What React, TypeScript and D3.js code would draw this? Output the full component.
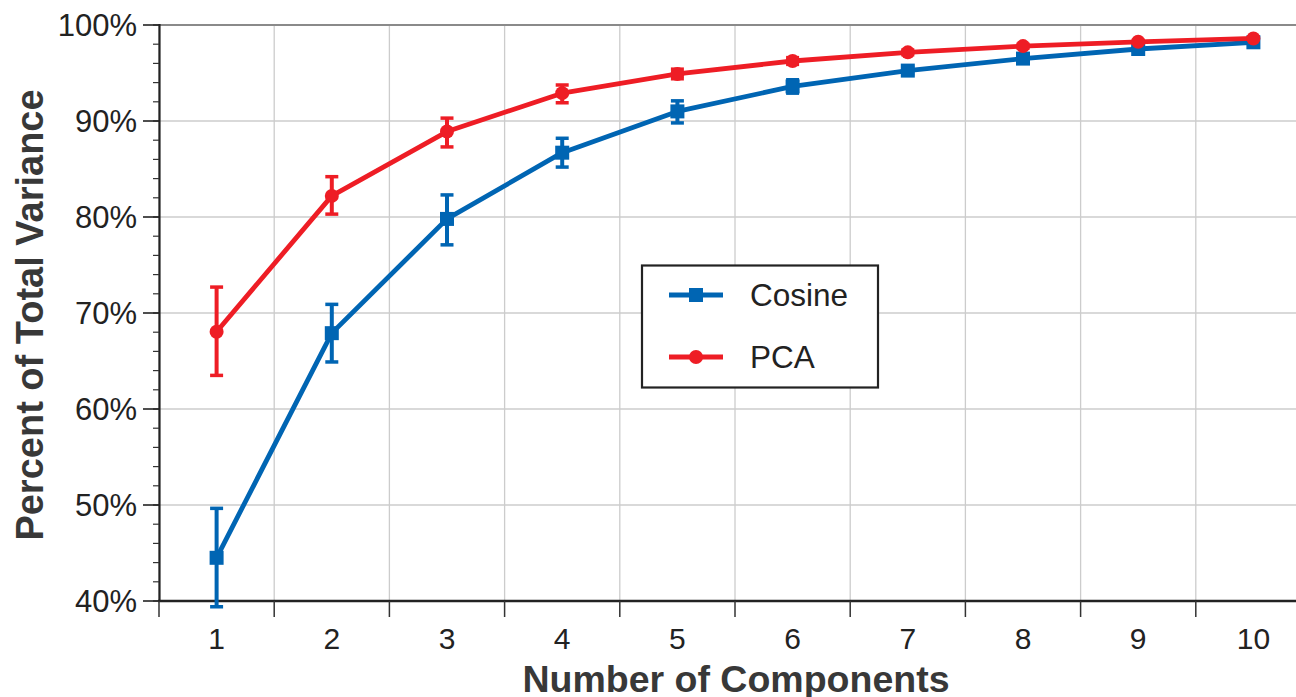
import React from "react";
import * as d3 from "d3";

const components = [1, 2, 3, 4, 5, 6, 7, 8, 9, 10];
const cosineMean = [44.5, 67.9, 79.8, 86.7, 91.0, 93.6, 95.25, 96.5, 97.5, 98.2];
const cosineLow = [39.4, 64.9, 77.1, 85.2, 89.8, 92.9, 94.9, 96.2, 97.3, 98.0];
const cosineHigh = [49.65, 70.9, 82.3, 88.2, 92.1, 94.3, 95.6, 96.8, 97.7, 98.4];
const pcaMean = [68.05, 82.2, 88.9, 92.9, 94.9, 96.25, 97.15, 97.8, 98.25, 98.6];
const pcaLow = [63.5, 80.3, 87.3, 91.9, 94.4, 95.9, 96.9, 97.6, 98.1, 98.5];
const pcaHigh = [72.7, 84.2, 90.3, 93.75, 95.4, 96.6, 97.4, 98.0, 98.4, 98.7];
const yTicks = [40, 50, 60, 70, 80, 90, 100];
const legendLabels = ["Cosine", "PCA"];

const W = 1296;
const H = 697;
const BLUE = "#0065b3";
const RED = "#ee1d25";
const FONT = "'Liberation Sans', Arial, Helvetica, sans-serif";

export default function App() {
  const x = d3.scaleLinear().domain([0.5, 10.5]).range([159, 1311]);
  const y = d3.scaleLinear().domain([40, 100]).range([601, 25]);
  const line = d3
    .line<number>()
    .x((_, i) => x(components[i]))
    .y((d) => y(d));
  const minorTicks = d3.range(40, 100.01, 2);
  const bounds = d3.range(0.5, 10.51, 1);

  const series = [
    { name: legendLabels[0], mean: cosineMean, low: cosineLow, high: cosineHigh, color: BLUE, shape: "square" },
    { name: legendLabels[1], mean: pcaMean, low: pcaLow, high: pcaHigh, color: RED, shape: "circle" },
  ];

  const marker = (shape: string, cx: number, cy: number, color: string, key: any) =>
    shape === "square" ? (
      <rect key={key} x={cx - 7} y={cy - 7} width={14} height={14} fill={color} />
    ) : (
      <circle key={key} cx={cx} cy={cy} r={7} fill={color} />
    );

  return (
    <svg
      width={W}
      height={H}
      style={{ position: "absolute", left: 0, top: 0, background: "#fff" }}
      fontFamily={FONT}
    >
      {/* grid */}
      {yTicks.map((t) => (
        <line key={"hg" + t} x1={159} x2={W} y1={y(t)} y2={y(t)} stroke="#cccccc" strokeWidth={1.3} />
      ))}
      {bounds.map((b) => (
        <line key={"vg" + b} x1={x(b)} x2={x(b)} y1={25} y2={601} stroke="#cccccc" strokeWidth={1.3} />
      ))}
      {/* top border */}
      <line x1={159} x2={W} y1={25} y2={25} stroke="#8a8a8a" strokeWidth={2} />
      {/* y axis */}
      <line x1={159.5} x2={159.5} y1={24} y2={602} stroke="#222" strokeWidth={2.2} />
      {minorTicks.map((t) => (
        <line key={"mt" + t} x1={153} x2={159} y1={y(t)} y2={y(t)} stroke="#333" strokeWidth={1.2} />
      ))}
      {yTicks.map((t) => (
        <g key={"yt" + t}>
          <line x1={143} x2={159} y1={y(t)} y2={y(t)} stroke="#222" strokeWidth={1.6} />
          <text x={137} y={y(t) + 10.5} textAnchor="end" fontSize={31} fill="#222">
            {t}%
          </text>
        </g>
      ))}
      {/* x axis */}
      <line x1={158} x2={W} y1={601} y2={601} stroke="#222" strokeWidth={2.4} />
      {bounds.map((b) => (
        <line key={"xt" + b} x1={x(b)} x2={x(b)} y1={601} y2={617} stroke="#333" strokeWidth={1.5} />
      ))}
      {components.map((c) => (
        <text key={"xl" + c} x={x(c)} y={649} textAnchor="middle" fontSize={30} fill="#222">
          {c}
        </text>
      ))}
      {/* axis titles */}
      <text x={736} y={692} textAnchor="middle" fontSize={37.5} fontWeight="bold" fill="#383838">
        Number of Components
      </text>
      <text
        transform={`translate(43,${y(70) + 2}) rotate(-90)`}
        textAnchor="middle"
        fontSize={38}
        fontWeight="bold"
        fill="#383838"
      >
        Percent of Total Variance
      </text>
      {/* series */}
      {series.map((s) => (
        <g key={s.name}>
          <path d={line(s.mean) || ""} fill="none" stroke={s.color} strokeWidth={4.8} strokeLinejoin="round" />
          {s.mean.map((m, i) => {
            const cx = x(components[i]);
            return (
              <g key={i}>
                <line x1={cx} x2={cx} y1={y(s.low[i])} y2={y(s.high[i])} stroke={s.color} strokeWidth={4} />
                <line x1={cx - 6.5} x2={cx + 6.5} y1={y(s.low[i])} y2={y(s.low[i])} stroke={s.color} strokeWidth={3.5} />
                <line x1={cx - 6.5} x2={cx + 6.5} y1={y(s.high[i])} y2={y(s.high[i])} stroke={s.color} strokeWidth={3.5} />
                {marker(s.shape, cx, y(m), s.color, "m" + i)}
              </g>
            );
          })}
        </g>
      ))}
      {/* legend */}
      <rect x={642} y={265.5} width={236} height={122} fill="#fff" stroke="#222" strokeWidth={2.2} />
      {series.map((s, i) => {
        const ly = 295 + i * 62;
        return (
          <g key={"lg" + s.name}>
            <line x1={669} x2={723} y1={ly} y2={ly} stroke={s.color} strokeWidth={4.8} />
            {marker(s.shape, 696, ly, s.color, "lm")}
            <text x={750} y={ly + 11} fontSize={31.5} fill="#222">
              {s.name}
            </text>
          </g>
        );
      })}
    </svg>
  );
}
